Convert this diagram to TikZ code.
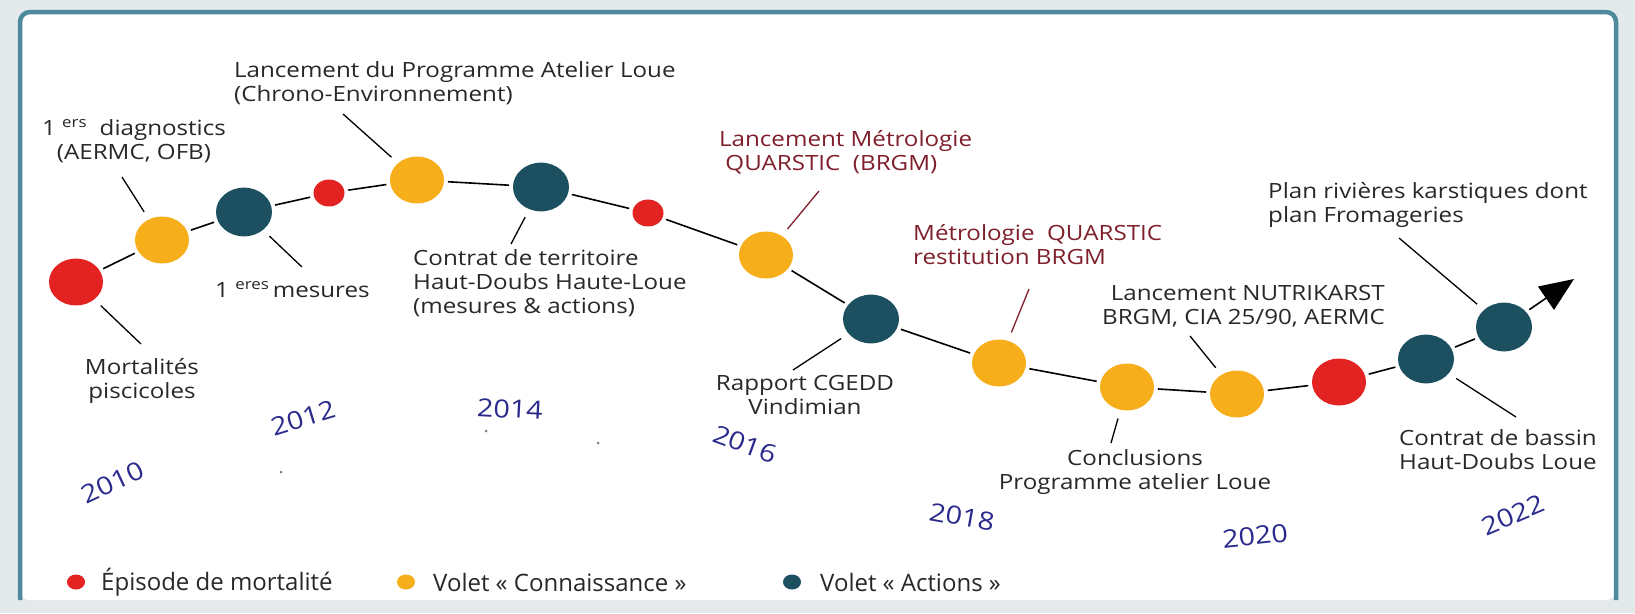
\documentclass[tikz,border=0pt]{standalone}
\usepackage{fontspec}
\setmainfont{Open Sans}[FakeStretch=1.15]
\newfontfamily\legendfont{Open Sans}[FakeStretch=1.0]
\usepackage{tikz}
\usetikzlibrary{arrows.meta, shapes.geometric, positioning}

\definecolor{MortRed}{RGB}{227,35,34}
\definecolor{SavoirYellow}{RGB}{246,174,26}
\definecolor{ActionTeal}{RGB}{28,79,95}
\definecolor{NoteRed}{RGB}{126,31,43}
\definecolor{YearBlue}{RGB}{42,42,140}
\definecolor{FrameTeal}{RGB}{78,138,155}
\definecolor{PageGray}{RGB}{228,233,236}
\definecolor{TextGray}{RGB}{40,40,40}

\tikzset{
  dot/.style={ellipse, fill=#1, inner sep=0pt, outer sep=4pt},
  keydot/.style={dot=#1, minimum width=18pt, minimum height=15pt},
  link/.style={line width=1.6pt},
  leader/.style={line width=1.3pt, shorten <=5pt},
  label/.style={text=TextGray, inner sep=0pt, font=\fontsize{21}{24}\selectfont},
  note/.style={label, text=NoteRed},
  keytext/.style={text=TextGray, inner sep=0pt, font=\legendfont\fontsize{24}{26}\selectfont},
  year/.style={text=YearBlue, inner sep=0pt, font=\fontsize{25}{28}\selectfont},
  frame/.style={draw=FrameTeal, line width=4.5pt, rounded corners=10pt},
}

\begin{document}
\begin{tikzpicture}[x=1pt, y=-1pt]
      \useasboundingbox (0,0) rectangle (1635,613);
      % page and frame
      \fill[PageGray] (0,0) rectangle (1635,613);
      \fill[white, rounded corners=10pt] (20,12) rectangle (1616,600);
      \draw[frame] (20,600) -- (20,12) -- (1616,12) -- (1616,600);

      % events along the timeline
      \foreach \n/\x/\y/\c/\w in {
        1/76/282/MortRed/54, 2/162/240/SavoirYellow/54, 3/244/212/ActionTeal/56,
        4/329/193/MortRed/31, 5/417/180/SavoirYellow/54, 6/541/187/ActionTeal/56,
        7/648/213/MortRed/31, 8/766/255/SavoirYellow/54, 9/871/319/ActionTeal/56,
        10/999/363/SavoirYellow/54, 11/1127/387/SavoirYellow/54,
        12/1237/394/SavoirYellow/54, 13/1339/382/MortRed/54,
        14/1426/359/ActionTeal/56, 15/1504/327/ActionTeal/56}{
        \node[dot=\c, minimum width=\w pt, minimum height=0.87*\w pt] (d\n) at (\x,\y) {};
      }
      \foreach \a/\b in {1/2, 2/3, 3/4, 4/5, 5/6, 6/7, 7/8, 8/9, 9/10,
        10/11, 11/12, 12/13, 13/14, 14/15}{
        \draw[link] (d\a) -- (d\b);
      }
      \coordinate (tip) at (1574,279);
      \draw[link, -{Triangle[length=34pt, width=28pt]}] (d15) -- (tip);

      % labels
      \node[label, align=center] (t1) at (142,381) {Mortalités\\piscicoles};
      \node[label, align=center] (t2) at (134,141) {1 \textsuperscript{ers}\ \ diagnostics\\(AERMC, OFB)};
      \node[label, anchor=base west] (t3) at (215,297) {1 \textsuperscript{eres}\,mesures};
      \node[label, align=left, anchor=west] (t5) at (234,83)
        {Lancement du Programme Atelier Loue\\(Chrono-Environnement)};
      \node[label, align=left, anchor=west] (t6) at (413,283)
        {Contrat de territoire\\Haut-Doubs Haute-Loue\\(mesures \& actions)};
      \node[note, align=left, anchor=west] (t8) at (719,152)
        {Lancement Métrologie\\\ QUARSTIC\ \ (BRGM)};
      \node[label, align=center] (t9) at (805,395) {Rapport CGEDD\\Vindimian};
      \node[note, align=left, anchor=west] (t10) at (913,245)
        {Métrologie\ \ QUARSTIC\\restitution BRGM};
      \node[label, align=center] (t11) at (1135,472) {Conclusions\\Programme atelier Loue};
      \node[label, align=right, anchor=east] (t12) at (1385,306)
        {Lancement NUTRIKARST\\BRGM, CIA 25/90, AERMC};
      \node[label, align=left, anchor=west] (t14) at (1399,450)
        {Contrat de bassin\\Haut-Doubs Loue};
      \node[label, align=left, anchor=west] (t15) at (1268,205)
        {Plan rivières karstiques dont\\plan Fromageries};

      % leader lines
      \coordinate (e1) at (141,344);
      \coordinate (e2) at (122,177);
      \coordinate (e3) at (302,267);
      \coordinate (e5) at (343,114);
      \coordinate (e6) at (511,244);
      \coordinate (e8) at (819,191);
      \coordinate (e9) at (793,370);
      \coordinate (e10) at (1029,289);
      \coordinate (e11) at (1111,443);
      \coordinate (e12) at (1190,336);
      \coordinate (e14) at (1516,417);
      \coordinate (e15) at (1399,238);
      \foreach \n in {1,2,3,5,6,9,11,12,14,15}{
        \draw[leader] (d\n) -- (e\n);
      }
      \foreach \n in {8,10}{
        \draw[leader, NoteRed] (d\n) -- (e\n);
      }

      % years
      \node[year, rotate=25] (y2010) at (113,482) {2010};
      \node[year, rotate=17] (y2012) at (303,418) {2012};
      \node[year, rotate=-3] (y2014) at (510,409) {2014};
      \node[year, rotate=-20] (y2016) at (745,444) {2016};
      \node[year, rotate=-10] (y2018) at (962,517) {2018};
      \node[year, rotate=6] (y2020) at (1255,536) {2020};
      \node[year, rotate=23] (y2022) at (1513,515) {2022};
      \foreach \x/\y in {486/431, 598/443, 281/472}{
        \fill[gray] (\x,\y) circle (1.5pt);
      }

      % legend
      \node[keydot=MortRed] (k1) at (76,582) {};
      \node[keytext, right=12pt of k1] (k1t) {Épisode de mortalité};
      \node[keydot=SavoirYellow] (k2) at (406,582) {};
      \node[keytext, right=14pt of k2] (k2t) {Volet «~Connaissance~»};
      \node[keydot=ActionTeal] (k3) at (792,582) {};
      \node[keytext, right=15pt of k3] (k3t) {Volet «~Actions~»};
    \end{tikzpicture}
\end{document}
